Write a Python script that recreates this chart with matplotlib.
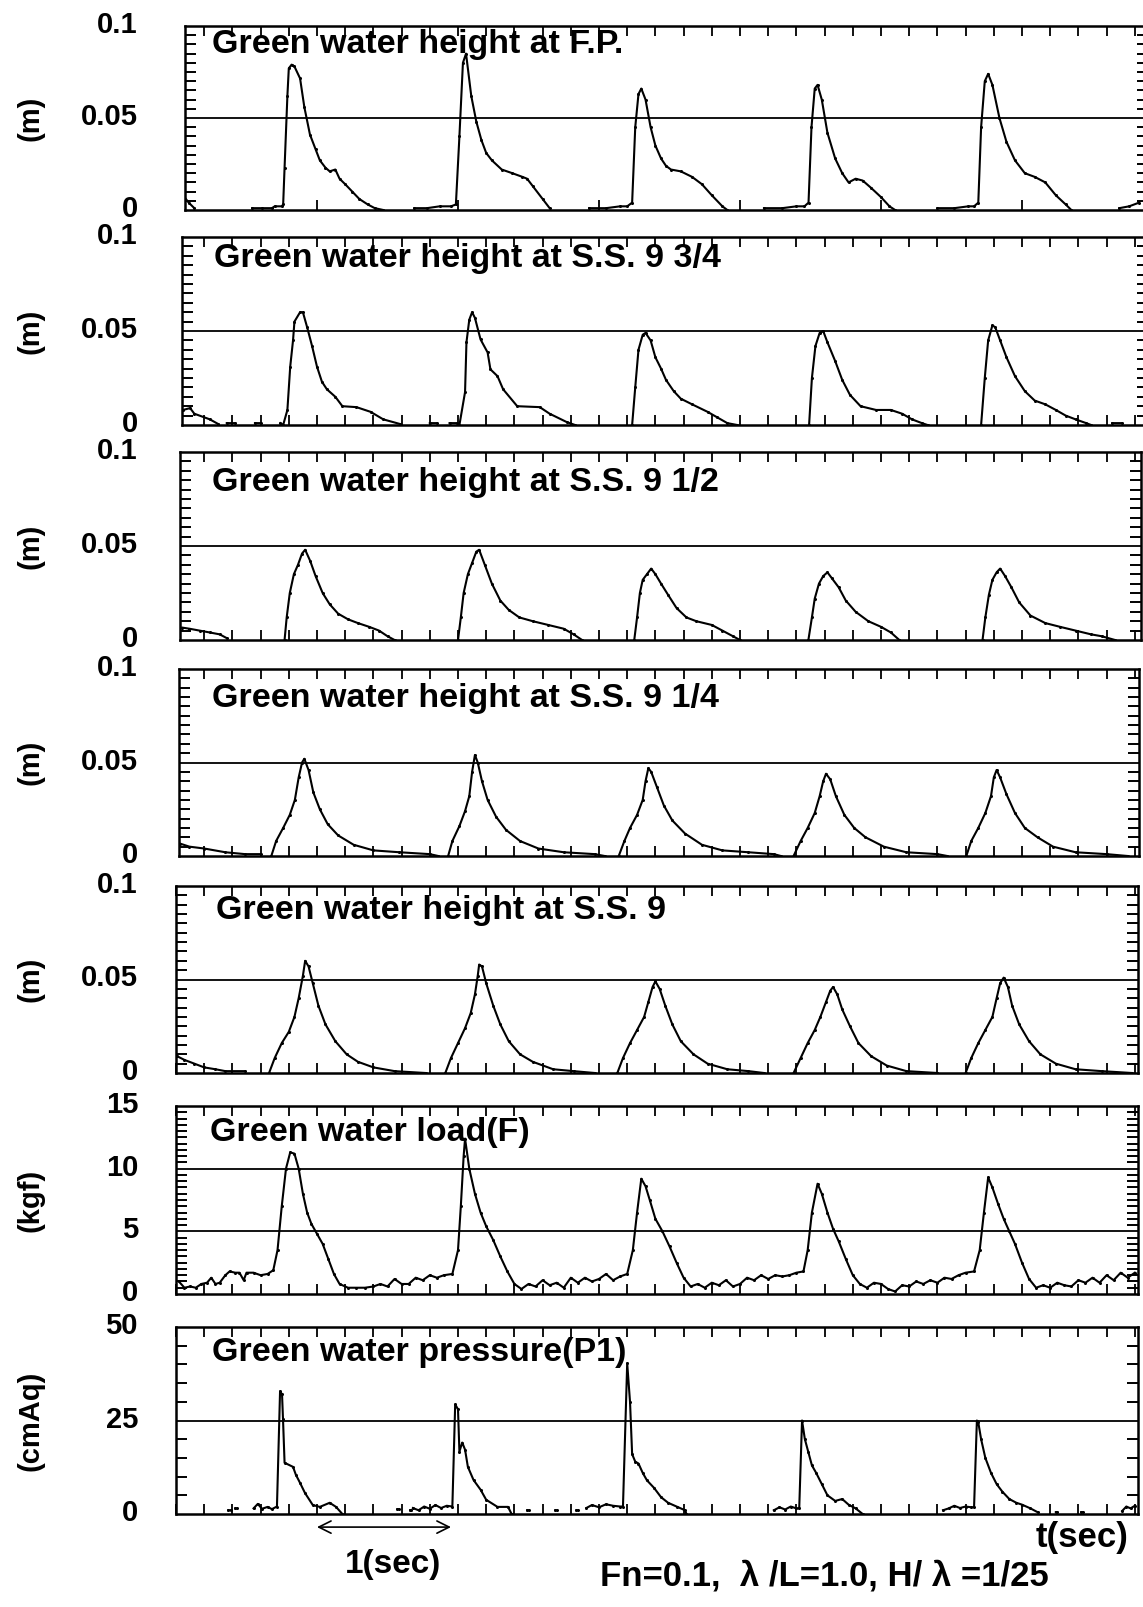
import numpy as np
import matplotlib
matplotlib.use("Agg")
import matplotlib.pyplot as plt
import matplotlib.transforms as mtransforms
from matplotlib.ticker import MultipleLocator, FixedLocator

nan = np.nan

# ---- data: time (s) and value, nan breaks the trace ----
fp_t = [0.05, 0.09, 0.13, nan,
        0.54, 0.61, 0.68, 0.70, 0.75, 0.76, 0.77, 0.79, 0.80, 0.82, 0.84, 0.88, 0.91, 0.95, 0.99, 1.02,
        1.06, 1.09, 1.13, 1.16, 1.20, 1.25, 1.30, 1.36, 1.41, 1.47, nan,
        1.69, 1.78, 1.87, 1.95, 1.985, 2.01, 2.035, 2.057, 2.094, 2.13, 2.166, 2.20, 2.24, 2.31, 2.385,
        2.457, 2.49, 2.53, 2.60, 2.65, nan,
        2.93, 3.05, 3.15, 3.20, 3.235, 3.257, 3.28, 3.30, 3.33, 3.366, 3.40, 3.44, 3.475, 3.51, 3.58,
        3.66, 3.73, 3.80, 3.875, 3.91, nan,
        4.17, 4.30, 4.40, 4.457, 4.486, 4.507, 4.53, 4.55, 4.58, 4.62, 4.675, 4.725, 4.77, 4.82, 4.87,
        4.93, 5.00, 5.06, 5.10, nan,
        5.40, 5.52, 5.62, 5.66, 5.69, 5.71, 5.736, 5.76, 5.79, 5.84, 5.89, 5.95, 6.02, 6.09, 6.165,
        6.24, 6.31, 6.35, nan,
        6.69, 6.76, 6.83]
fp_h = [0.008, 0.004, 0.001, nan,
        0.001, 0.001, 0.001, 0.002, 0.002, 0.003, 0.023, 0.062, 0.077, 0.079, 0.078, 0.0715, 0.056, 0.041,
        0.033, 0.027, 0.023, 0.021, 0.022, 0.017, 0.014, 0.010, 0.006, 0.003, 0.001, 0.0, nan,
        0.001, 0.001, 0.002, 0.002, 0.003, 0.040, 0.080, 0.085, 0.062, 0.048, 0.038, 0.031, 0.027, 0.022,
        0.020, 0.018, 0.017, 0.013, 0.006, 0.001, nan,
        0.001, 0.001, 0.002, 0.002, 0.004, 0.045, 0.063, 0.066, 0.060, 0.045, 0.035, 0.028, 0.024, 0.022,
        0.021, 0.018, 0.014, 0.008, 0.002, 0.0, nan,
        0.001, 0.001, 0.002, 0.002, 0.004, 0.045, 0.066, 0.068, 0.060, 0.042, 0.028, 0.020, 0.015, 0.017,
        0.016, 0.012, 0.007, 0.002, 0.0, nan,
        0.001, 0.001, 0.002, 0.002, 0.004, 0.045, 0.070, 0.074, 0.068, 0.050, 0.037, 0.027, 0.020, 0.018,
        0.015, 0.008, 0.003, 0.0, nan,
        0.001, 0.002, 0.004]

ss934_t = [0.05, 0.10, 0.13, 0.24, 0.30, nan, 0.36, 0.42, nan, 0.56, 0.60, nan,
           0.74, 0.76, 0.79, 0.81, 0.83, 0.84, 0.88, 0.90, 0.93, 0.965, 1.00, 1.035, 1.07, 1.13, 1.18,
           1.28, 1.38, 1.47, 1.59, nan, 1.80, 1.85, nan,
           1.94, 1.99, 2.01, 2.05, 2.06, 2.08, 2.10, 2.12, 2.16, 2.21, 2.23, 2.28, 2.32, 2.42, 2.58,
           2.65, 2.77, 2.83, nan,
           3.235, 3.257, 3.28, 3.31, 3.33, 3.366, 3.40, 3.44, 3.475, 3.53, 3.58, 3.66, 3.77, 3.84, 3.91,
           3.98, nan,
           4.49, 4.51, 4.535, 4.565, 4.59, 4.62, 4.675, 4.725, 4.78, 4.855, 4.965, 5.07, 5.15, 5.22,
           5.29, 5.33, nan,
           5.71, 5.736, 5.76, 5.79, 5.81, 5.845, 5.89, 5.95, 6.02, 6.09, 6.165, 6.24, 6.31, 6.38,
           6.455, 6.49, nan, 6.64, 6.71]
ss934_h = [0.008, 0.009, 0.006, 0.003, 0.0005, nan, 0.001, 0.001, nan, 0.001, 0.001, nan,
           0.001, 0.0, 0.008, 0.031, 0.045, 0.055, 0.060, 0.060, 0.052, 0.042, 0.031, 0.023, 0.019,
           0.015, 0.010, 0.0095, 0.007, 0.003, 0.0005, nan, 0.001, 0.001, nan,
           0.001, 0.001, 0.0, 0.0175, 0.044, 0.056, 0.060, 0.057, 0.0455, 0.0386, 0.0296, 0.026, 0.019,
           0.010, 0.0095, 0.006, 0.0016, 0.0, nan,
           0.0, 0.020, 0.040, 0.048, 0.049, 0.045, 0.036, 0.030, 0.024, 0.018, 0.014, 0.011, 0.007,
           0.004, 0.001, 0.0, nan,
           0.0, 0.025, 0.042, 0.049, 0.050, 0.044, 0.034, 0.024, 0.016, 0.010, 0.008, 0.008, 0.006,
           0.003, 0.001, 0.0, nan,
           0.0, 0.025, 0.045, 0.053, 0.052, 0.045, 0.036, 0.026, 0.018, 0.013, 0.011, 0.008, 0.005,
           0.003, 0.001, 0.0, nan, 0.001, 0.001]

ss912_t = [0.044, 0.095, 0.167, 0.24, 0.31, 0.36, nan,
           0.77, 0.785, 0.807, 0.836, 0.865, 0.894, 0.916, 0.952, 0.99, 1.04, 1.09, 1.15, 1.22, 1.29,
           1.37, 1.44, 1.50, 1.55, nan,
           2.00, 2.02, 2.04, 2.07, 2.10, 2.13, 2.15, 2.19, 2.24, 2.30, 2.36, 2.435, 2.53, 2.64, 2.75,
           2.82, 2.88, nan,
           3.25, 3.27, 3.29, 3.31, 3.34, 3.37, 3.40, 3.44, 3.49, 3.55, 3.62, 3.69, 3.80, 3.875, 3.95,
           4.00, nan,
           4.485, 4.51, 4.53, 4.56, 4.59, 4.62, 4.65, 4.70, 4.75, 4.82, 4.91, 5.00, 5.07, 5.13, nan,
           5.72, 5.74, 5.765, 5.79, 5.82, 5.845, 5.88, 5.925, 5.98, 6.06, 6.165, 6.27, 6.38, 6.49,
           6.565, 6.66]
ss912_h = [0.0066, 0.006, 0.005, 0.004, 0.003, 0.001, nan,
           0.0, 0.012, 0.025, 0.035, 0.040, 0.046, 0.048, 0.042, 0.034, 0.025, 0.019, 0.014, 0.011,
           0.009, 0.007, 0.005, 0.002, 0.0, nan,
           0.0, 0.012, 0.025, 0.035, 0.041, 0.047, 0.048, 0.040, 0.030, 0.021, 0.016, 0.012, 0.010,
           0.008, 0.006, 0.003, 0.0, nan,
           0.0, 0.012, 0.025, 0.032, 0.035, 0.038, 0.035, 0.030, 0.024, 0.017, 0.012, 0.010, 0.008,
           0.005, 0.002, 0.0, nan,
           0.0, 0.012, 0.022, 0.030, 0.034, 0.036, 0.033, 0.028, 0.021, 0.015, 0.010, 0.007, 0.004,
           0.0, nan,
           0.0, 0.012, 0.024, 0.032, 0.036, 0.038, 0.034, 0.028, 0.020, 0.013, 0.009, 0.007, 0.005,
           0.003, 0.002, 0.0]

ss914_t = [0.03, 0.095, 0.20, 0.35, 0.49, 0.60, nan,
           0.676, 0.71, 0.76, 0.807, 0.843, 0.87, 0.894, 0.91, 0.94, 0.974, 1.02, 1.076, 1.15, 1.26,
           1.40, 1.585, 1.80, 1.86, nan,
           1.93, 1.96, 2.01, 2.05, 2.08, 2.10, 2.12, 2.14, 2.17, 2.21, 2.27, 2.34, 2.44, 2.57, 2.75,
           2.97, 3.04, nan,
           3.14, 3.18, 3.22, 3.27, 3.31, 3.33, 3.35, 3.37, 3.41, 3.46, 3.52, 3.61, 3.73, 3.875, 4.06,
           4.24, 4.29, nan,
           4.38, 4.43, 4.48, 4.53, 4.565, 4.59, 4.61, 4.64, 4.68, 4.74, 4.81, 4.89, 5.02, 5.18, 5.40,
           5.47, nan,
           5.605, 5.64, 5.69, 5.74, 5.78, 5.80, 5.82, 5.845, 5.89, 5.95, 6.02, 6.11, 6.22, 6.38, 6.60,
           6.75]
ss914_h = [0.0066, 0.005, 0.004, 0.002, 0.001, 0.001, nan,
           0.0, 0.008, 0.015, 0.022, 0.030, 0.042, 0.050, 0.052, 0.046, 0.034, 0.025, 0.017, 0.011,
           0.006, 0.003, 0.002, 0.001, 0.0, nan,
           0.0, 0.008, 0.016, 0.024, 0.032, 0.045, 0.054, 0.050, 0.040, 0.030, 0.021, 0.014, 0.008,
           0.004, 0.002, 0.001, 0.0, nan,
           0.0, 0.008, 0.015, 0.022, 0.030, 0.040, 0.047, 0.045, 0.037, 0.027, 0.019, 0.012, 0.006,
           0.003, 0.002, 0.001, 0.0, nan,
           0.0, 0.008, 0.015, 0.023, 0.032, 0.040, 0.044, 0.041, 0.032, 0.022, 0.015, 0.010, 0.005,
           0.002, 0.001, 0.0, nan,
           0.0, 0.008, 0.015, 0.023, 0.032, 0.042, 0.046, 0.042, 0.033, 0.023, 0.015, 0.010, 0.005,
           0.002, 0.001, 0.0]

ss9_t = [0.007, 0.06, 0.13, 0.20, 0.28, 0.35, 0.49, nan,
         0.66, 0.70, 0.75, 0.80, 0.84, 0.87, 0.90, 0.916, 0.94, 0.97, 1.01, 1.06, 1.13, 1.21, 1.29,
         1.40, 1.55, 1.77, nan,
         1.91, 1.95, 2.00, 2.05, 2.09, 2.12, 2.14, 2.15, 2.17, 2.20, 2.25, 2.30, 2.36, 2.44, 2.53,
         2.675, 2.82, 2.97, nan,
         3.13, 3.17, 3.22, 3.27, 3.32, 3.35, 3.38, 3.40, 3.43, 3.47, 3.52, 3.58, 3.67, 3.77, 3.91,
         4.06, 4.17, nan,
         4.38, 4.43, 4.48, 4.53, 4.57, 4.61, 4.64, 4.66, 4.69, 4.725, 4.78, 4.84, 4.93, 5.04, 5.18,
         5.40, nan,
         5.60, 5.64, 5.69, 5.74, 5.79, 5.82, 5.845, 5.87, 5.90, 5.93, 5.98, 6.05, 6.13, 6.24, 6.38,
         6.565, 6.78]
ss9_h = [0.009, 0.007, 0.005, 0.003, 0.002, 0.001, 0.001, nan,
         0.0, 0.008, 0.016, 0.022, 0.030, 0.040, 0.052, 0.060, 0.057, 0.048, 0.036, 0.026, 0.017,
         0.010, 0.006, 0.003, 0.001, 0.0, nan,
         0.0, 0.008, 0.016, 0.024, 0.032, 0.042, 0.052, 0.058, 0.057, 0.048, 0.036, 0.026, 0.017,
         0.010, 0.006, 0.002, 0.001, 0.0, nan,
         0.0, 0.008, 0.016, 0.023, 0.030, 0.038, 0.046, 0.049, 0.045, 0.036, 0.026, 0.017, 0.010,
         0.005, 0.002, 0.001, 0.0, nan,
         0.0, 0.008, 0.016, 0.023, 0.030, 0.038, 0.044, 0.046, 0.042, 0.034, 0.025, 0.016, 0.009,
         0.004, 0.001, 0.0, nan,
         0.0, 0.008, 0.016, 0.023, 0.030, 0.040, 0.048, 0.051, 0.046, 0.036, 0.026, 0.017, 0.010,
         0.005, 0.002, 0.001, 0.0]

load_t = [0.02, 0.06, 0.10, 0.14, 0.18, 0.22, 0.25, 0.28, 0.31, 0.35, 0.38, 0.42, 0.45, 0.48, 0.50,
          0.55, 0.60, 0.65, 0.69, 0.72, 0.75, 0.78, 0.81, 0.84, 0.87, 0.90, 0.93, 0.96, 1.00, 1.04,
          1.08, 1.12, 1.16, 1.22, 1.28, 1.34, 1.40, 1.45, 1.50, 1.55, 1.60, 1.65, 1.70, 1.75, 1.80,
          1.85, 1.90, 1.96, 2.00, 2.02, 2.04, 2.05, 2.08, 2.12, 2.16, 2.20, 2.25, 2.30, 2.35, 2.40,
          2.45, 2.50, 2.55, 2.60, 2.65, 2.70, 2.75, 2.80, 2.85, 2.90, 2.95, 3.00, 3.05, 3.10, 3.15,
          3.20, 3.24, 3.27, 3.30, 3.33, 3.36, 3.40, 3.45, 3.50, 3.55, 3.60, 3.65, 3.70, 3.75, 3.80,
          3.85, 3.90, 3.95, 4.00, 4.05, 4.10, 4.15, 4.20, 4.25, 4.30, 4.35, 4.40, 4.45, 4.48, 4.51,
          4.55, 4.58, 4.62, 4.66, 4.70, 4.75, 4.80, 4.85, 4.90, 4.95, 5.00, 5.05, 5.10, 5.15, 5.20,
          5.25, 5.30, 5.35, 5.40, 5.45, 5.50, 5.55, 5.60, 5.66, 5.70, 5.73, 5.76, 5.79, 5.83, 5.87,
          5.91, 5.95, 6.00, 6.05, 6.10, 6.15, 6.20, 6.25, 6.30, 6.35, 6.40, 6.45, 6.50, 6.55, 6.60,
          6.65, 6.70, 6.75, 6.80]
load_f = [1.0, 0.5, 0.6, 0.5, 0.8, 0.9, 1.3, 0.8, 0.9, 1.5, 1.8, 1.7, 1.7, 1.1, 1.7,
          1.7, 1.5, 1.6, 1.9, 3.5, 7.0, 10.0, 11.3, 11.2, 10.0, 8.0, 6.5, 5.6, 4.8, 4.0,
          2.8, 1.6, 0.8, 0.5, 0.5, 0.5, 0.6, 0.8, 0.6, 1.2, 0.8, 0.8, 1.3, 1.1, 1.5,
          1.3, 1.5, 1.6, 3.5, 7.0, 11.0, 12.4, 10.0, 8.0, 6.5, 5.4, 4.3, 3.0, 1.8, 0.8,
          0.4, 0.8, 0.6, 1.1, 0.7, 0.9, 0.5, 1.3, 0.9, 1.3, 1.0, 1.2, 1.6, 1.1, 1.4,
          1.6, 3.5, 6.5, 9.2, 8.6, 7.5, 6.0, 5.0, 3.8, 2.5, 1.3, 0.6, 0.8, 0.5, 0.9,
          0.7, 1.1, 0.6, 0.8, 1.3, 1.1, 1.5, 1.2, 1.5, 1.4, 1.5, 1.7, 1.8, 3.5, 6.5,
          8.8, 8.0, 6.5, 5.2, 4.2, 2.8, 1.5, 0.8, 0.5, 0.9, 0.8, 0.4, 0.2, 0.7, 0.6,
          1.0, 0.8, 1.1, 0.9, 1.3, 1.2, 1.5, 1.7, 1.8, 3.5, 6.5, 9.3, 8.5, 7.2, 6.0,
          5.0, 4.0, 2.5, 1.2, 0.5, 0.7, 0.5, 0.9, 0.7, 0.6, 1.1, 0.9, 1.3, 0.9, 1.5,
          1.1, 1.7, 1.3, 1.7]

p1_t = [0.37, 0.39, nan, 0.42, 0.43, nan,
        0.55, 0.58, 0.61, 0.65, 0.68, 0.716, 0.738, 0.752, 0.759, 0.77, 0.83, 0.85, 0.88, 0.915,
        0.97, 1.02, 1.09, 1.135, 1.18, nan, 1.57, 1.58, nan, 1.66, 1.67, nan,
        1.68, 1.72, 1.76, 1.80, 1.84, 1.88, 1.92, 1.96, 1.98, 2.00, 2.01, 2.03, 2.05, 2.07, 2.11,
        2.16, 2.20, 2.28, 2.355, 2.38, nan, 2.49, 2.50, nan, 2.69, 2.70, nan, 2.84, 2.85, nan,
        2.91, 2.95, 3.00, 3.05, 3.10, 3.15, 3.17, 3.20, 3.22, 3.235, 3.257, 3.28, 3.31, 3.34, 3.39,
        3.44, 3.49, 3.55, 3.61, 3.62, nan,
        4.24, 4.28, 4.32, 4.36, 4.40, 4.42, 4.44, 4.46, 4.485, 4.51, 4.54, 4.58, 4.62, 4.675, 4.725,
        4.77, 4.82, 4.87, nan,
        5.44, 5.48, 5.52, 5.56, 5.60, 5.64, 5.66, 5.68, 5.69, 5.71, 5.74, 5.78, 5.82, 5.86, 5.91,
        5.96, 6.00, 6.06, 6.11, nan, 6.24, 6.25, nan, 6.42, 6.43, nan,
        6.71, 6.74, 6.77, 6.80]
p1_p = [1.0, 1.0, nan, 1.5, 1.5, nan,
        1.5, 2.7, 1.4, 1.9, 1.3, 2.0, 32.8, 32.0, 25.3, 13.7, 12.6, 10.5, 8.3, 5.6,
        2.4, 1.9, 3.0, 1.9, 0.0, nan, 1.3, 1.3, nan, 1.0, 1.0, nan,
        1.6, 1.0, 2.0, 1.4, 2.4, 1.6, 2.2, 2.0, 29.3, 28.0, 16.7, 19.1, 17.2, 12.6, 9.1,
        6.5, 3.8, 1.9, 1.9, 0.0, nan, 1.0, 1.0, nan, 1.0, 1.0, nan, 1.0, 1.0, nan,
        1.6, 2.4, 1.8, 2.6, 2.2, 2.0, 2.0, 40.3, 30.0, 16.0, 14.0, 13.5, 11.0, 9.0, 7.0,
        4.5, 3.0, 2.0, 1.0, 0.0, nan,
        1.0, 1.8, 1.2, 2.0, 1.5, 1.5, 25.0, 20.0, 16.5, 13.0, 11.0, 8.0, 5.0, 3.5, 4.0,
        2.5, 1.5, 0.0, nan,
        1.0, 1.5, 2.2, 1.6, 2.0, 1.8, 1.8, 25.0, 24.5, 20.0, 15.0, 11.0, 8.0, 6.0, 4.0,
        3.0, 2.5, 1.5, 0.5, nan, 0.5, 0.5, nan, 0.5, 0.5, nan,
        0.8, 2.0, 1.5, 2.2]

titles = ["Green water height at F.P.", "Green water height at S.S. 9 3/4",
          "Green water height at S.S. 9 1/2", "Green water height at S.S. 9 1/4",
          "Green water height at S.S. 9", "Green water load(F)", "Green water pressure(P1)"]
units = ["(m)", "(m)", "(m)", "(m)", "(m)", "(kgf)", "(cmAq)"]

# ---- layout (pixels in a 1143 x 1607 canvas) ----
W, H = 1143, 1607
PX_PER_S, T0 = 141.0, 176.0

plt.rcParams['font.family'] = ['Liberation Sans', 'DejaVu Sans']
plt.rcParams['font.weight'] = 'bold'
fig = plt.figure(figsize=(W / 100, H / 100), dpi=100)

panels = [
    # left, top, right, bottom, title x, title y
    (185, 26, 1148, 210, 212, 44),
    (182, 237, 1148, 425, 214, 259),
    (180, 452, 1141, 640, 212, 483),
    (179, 669, 1139, 856, 212, 698),
    (176, 886, 1138, 1073, 216, 911),
    (176, 1106, 1138, 1294, 210, 1133),
    (176, 1327, 1138, 1514, 212, 1352),
]
series = [(fp_t, fp_h), (ss934_t, ss934_h), (ss912_t, ss912_h), (ss914_t, ss914_h),
          (ss9_t, ss9_h), (load_t, load_f), (p1_t, p1_p)]
m_ticks = ([0, 0.05, 0.1], ["0", "0.05", "0.1"], 0.005, [0.05], (0, 0.1))
scales = [m_ticks] * 5 + [
    ([0, 5, 10, 15], ["0", "5", "10", "15"], 0.5, [5, 10], (0, 15)),
    ([0, 25, 50], ["0", "25", "50"], 5, [25], (0, 50)),
]

lift = mtransforms.ScaledTranslation(0, 4 / 100, fig.dpi_scale_trans)

for i, ((l, t, r, b, tx, ty), (xs, ys), (yt, ylab, ymin, hl, ylim)) in enumerate(
        zip(panels, series, scales)):
    ax = fig.add_axes([l / W, 1 - b / H, (r - l) / W, (b - t) / H])
    ax.plot(xs, ys, color='black', lw=1.5, marker='o', ms=2.2, mew=0, clip_on=True)
    for y in hl:
        ax.axhline(y, color='black', lw=1.3, zorder=1)
    ax.set_xlim((l - T0) / PX_PER_S, (r - T0) / PX_PER_S)
    ax.set_ylim(*ylim)
    for s in ax.spines.values():
        s.set_linewidth(1.8)

    ax.yaxis.set_major_locator(FixedLocator(yt))
    ax.set_yticklabels(ylab)
    ax.yaxis.set_minor_locator(MultipleLocator(ymin))
    ax.tick_params(axis='y', which='major', length=0, pad=(l - 138) * 0.72, labelsize=21)
    ax.tick_params(axis='y', which='minor', direction='in', length=8, width=1.4,
                   left=True, right=True)
    for lab in ax.get_yticklabels():
        lab.set_transform(lab.get_transform() + lift)

    if i == 0:
        ax.xaxis.set_major_locator(MultipleLocator(1.0))
        ax.xaxis.set_minor_locator(MultipleLocator(0.2))
        ax.tick_params(axis='x', which='minor', direction='in', length=7, width=1.3,
                       top=True, bottom=False)
    else:
        ax.xaxis.set_major_locator(MultipleLocator(0.2))
    ax.tick_params(axis='x', which='major', direction='in', length=7, width=1.3,
                   top=True, bottom=True, labelbottom=False)

    fig.text(tx / W, 1 - ty / H, titles[i], fontsize=24.5, fontweight='bold',
             ha='left', va='center')
    fig.text(31 / W, 1 - (t + b) / 2 / H, units[i], fontsize=21, fontweight='bold',
             rotation=90, ha='center', va='center')

    if i == 6:
        ax.annotate('', xy=(1.97, -0.07), xytext=(0.98, -0.07),
                    xycoords=('data', 'axes fraction'), textcoords=('data', 'axes fraction'),
                    arrowprops=dict(arrowstyle='<->', lw=1.2, color='black',
                                    mutation_scale=22), annotation_clip=False)

fig.text(393 / W, 1 - 1565 / H, "1(sec)", fontsize=24, fontweight='bold',
         ha='center', va='center')
fig.text(1128 / W, 1 - 1538 / H, "t(sec)", fontsize=25, fontweight='bold',
         ha='right', va='center')
fig.text(600 / W, 1 - 1576 / H, "Fn=0.1,  \u03bb /L=1.0, H/ \u03bb =1/25", fontsize=25,
         fontweight='bold', ha='left', va='center')

fig.savefig("out.png", dpi=100)
